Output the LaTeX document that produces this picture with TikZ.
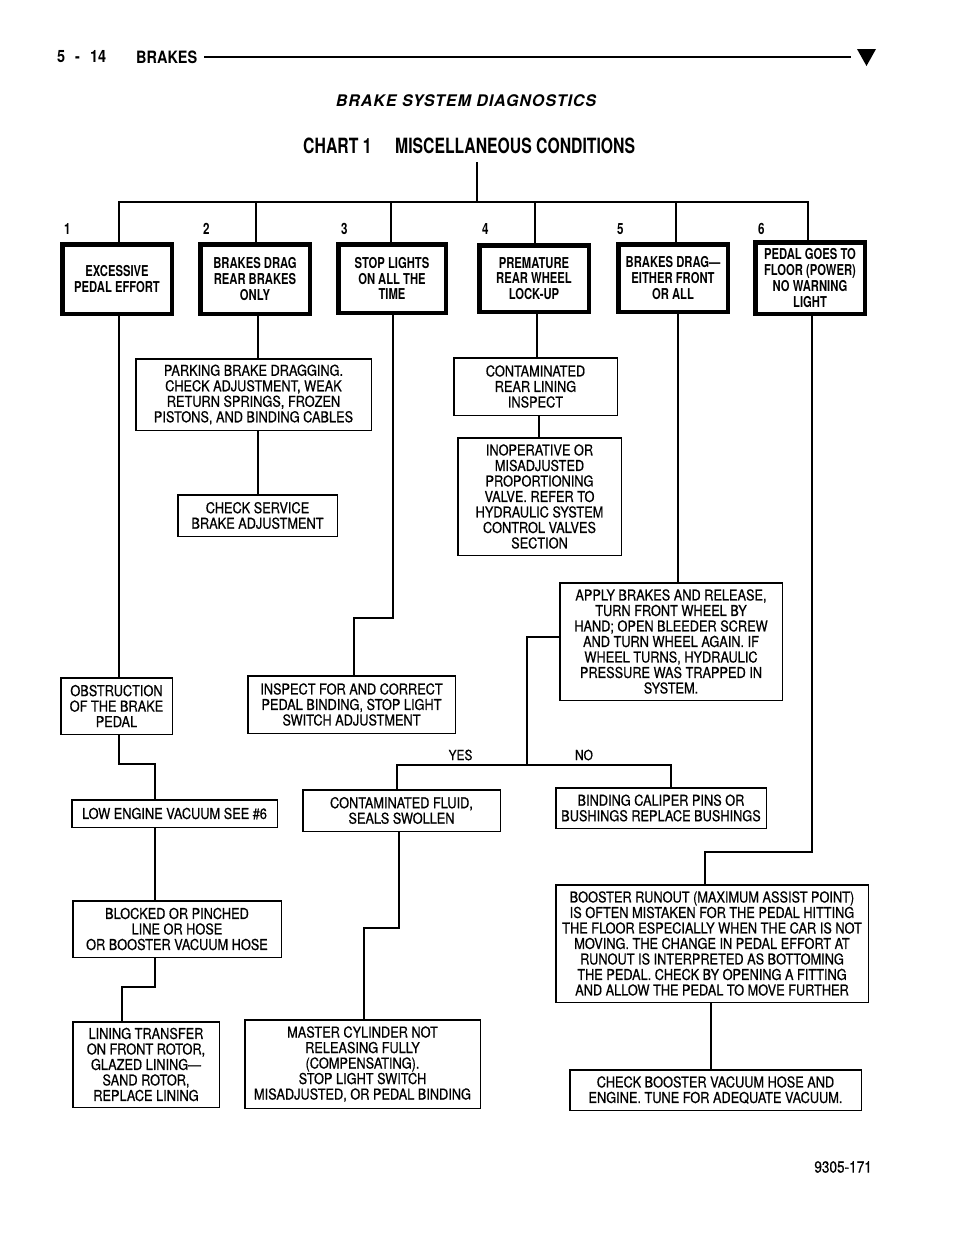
\documentclass[tikz,border=0pt]{standalone}
\usepackage{fontspec}
\setmainfont{TeX Gyre Heros}
\newfontfamily\condfont{TeX Gyre Heros}[FakeStretch=0.85,FakeBold=0.6]
\newfontfamily\bcond{TeX Gyre Heros}[FakeStretch=0.75]
\newfontfamily\hdfont{TeX Gyre Heros}[FakeStretch=0.85]
\newfontfamily\trackfont{TeX Gyre Heros}[LetterSpace=6]
\begin{document}
\begin{tikzpicture}[x=1pt,y=-1pt,
  thickbox/.style={draw, line width=4.5pt, inner sep=0pt, align=center,
    font=\bcond\bfseries\fontsize{15}{15.7}\selectfont},
  thinbox/.style={draw, line width=1.5pt, inner sep=0pt, align=center,
    font=\condfont\fontsize{15}{15.5}\selectfont},
  wire/.style={line width=1.4pt},
  numlbl/.style={anchor=west, inner sep=0pt, font=\bcond\bfseries\fontsize{15.5}{15.5}\selectfont},
  plainlbl/.style={inner sep=0pt, font=\condfont\fontsize{14}{14}\selectfont},
  hdtext/.style={anchor=west, inner sep=0pt, font=\hdfont\bfseries\fontsize{17}{17}\selectfont}]
\useasboundingbox (0,0) rectangle (960,1242);

% header
\node[hdtext] (pg) at (57,57) {5\hspace{10pt}-\hspace{10pt}14};
\node[hdtext] (brk) at (136,57) {BRAKES};
\coordinate (hlA) at (204,57);
\coordinate (hlB) at (851,57);
\draw[line width=2.4pt] (hlA) -- (hlB);
\coordinate (triA) at (857,49);
\coordinate (triB) at (876,49);
\coordinate (triC) at (866.5,66);
\fill (triA) -- (triB) -- (triC) -- cycle;

\node[inner sep=0pt, font=\trackfont\bfseries\itshape\fontsize{16}{16}\selectfont] (bsd) at (466,101) {BRAKE SYSTEM DIAGNOSTICS};
\node[anchor=west, inner sep=0pt, font=\bcond\bfseries\fontsize{21}{21}\selectfont] (chart) at (303,146) {CHART 1};
\node[anchor=west, inner sep=0pt, font=\bcond\bfseries\fontsize{21}{21}\selectfont] (misc) at (395,146) {MISCELLANEOUS CONDITIONS};

% numbers
\node[numlbl] (n1) at (64,229) {1};
\node[numlbl] (n2) at (203,229) {2};
\node[numlbl] (n3) at (341,229) {3};
\node[numlbl] (n4) at (482,229) {4};
\node[numlbl] (n5) at (617,229) {5};
\node[numlbl] (n6) at (758,229) {6};

% top boxes
\node[thickbox, minimum width=109.5, minimum height=69.5] (b1) at (117,279) {EXCESSIVE\\PEDAL EFFORT};
\node[thickbox, minimum width=109.5, minimum height=69.5] (b2) at (255,279) {BRAKES DRAG\\REAR BRAKES\\ONLY};
\node[thickbox, minimum width=107.5, minimum height=68.5] (b3) at (392,278.5) {STOP LIGHTS\\ON ALL THE\\TIME};
\node[thickbox, minimum width=109.5, minimum height=66.5] (b4) at (534,278.5) {PREMATURE\\REAR WHEEL\\LOCK-UP};
\node[thickbox, minimum width=109.5, minimum height=67.5] (b5) at (673,278) {BRAKES DRAG—\\EITHER FRONT\\OR ALL};
\node[thickbox, minimum width=109.5, minimum height=71.5] (b6) at (810,278) {PEDAL GOES TO\\FLOOR (POWER)\\NO WARNING\\LIGHT};

% thin boxes
\node[thinbox, minimum width=235.5, minimum height=71.5] (park) at (253.5,394.5) {PARKING BRAKE DRAGGING.\\CHECK ADJUSTMENT, WEAK\\RETURN SPRINGS, FROZEN\\PISTONS, AND BINDING CABLES};
\node[thinbox, minimum width=159.5, minimum height=41.5] (cserv) at (257.5,515.5) {CHECK SERVICE\\BRAKE ADJUSTMENT};
\node[thinbox, minimum width=163.5, minimum height=57.5] (cont) at (535.5,386.5) {CONTAMINATED\\REAR LINING\\INSPECT};
\node[thinbox, minimum width=163.5, minimum height=117.5] (inop) at (539.5,496.5) {INOPERATIVE OR\\MISADJUSTED\\PROPORTIONING\\VALVE. REFER TO\\HYDRAULIC SYSTEM\\CONTROL VALVES\\SECTION};
\node[thinbox, minimum width=222.5, minimum height=117.5] (apply) at (671,641.5) {APPLY BRAKES AND RELEASE,\\TURN FRONT WHEEL BY\\HAND; OPEN BLEEDER SCREW\\AND TURN WHEEL AGAIN. IF\\WHEEL TURNS, HYDRAULIC\\PRESSURE WAS TRAPPED IN\\SYSTEM.};
\node[thinbox, minimum width=111.5, minimum height=56.5] (obst) at (116.5,706) {OBSTRUCTION\\OF THE BRAKE\\PEDAL};
\node[thinbox, minimum width=207.5, minimum height=57.5] (insp) at (351.5,704.5) {INSPECT FOR AND CORRECT\\PEDAL BINDING, STOP LIGHT\\SWITCH ADJUSTMENT};
\node[thinbox, minimum width=205.5, minimum height=27.5] (low) at (174.5,813.5) {LOW ENGINE VACUUM SEE \#6};
\node[thinbox, minimum width=208.5, minimum height=56.5] (block) at (177,929) {BLOCKED OR PINCHED\\LINE OR HOSE\\OR BOOSTER VACUUM HOSE};
\node[thinbox, minimum width=146.5, minimum height=85.5] (lining) at (146,1064.5) {LINING TRANSFER\\ON FRONT ROTOR,\\GLAZED LINING—\\SAND ROTOR,\\REPLACE LINING};
\node[thinbox, minimum width=197.5, minimum height=41.5] (cfluid) at (401.5,810.5) {CONTAMINATED FLUID,\\SEALS SWOLLEN};
\node[thinbox, minimum width=235.5, minimum height=88.5] (master) at (362.5,1064) {MASTER CYLINDER NOT\\RELEASING FULLY\\(COMPENSATING).\\STOP LIGHT SWITCH\\MISADJUSTED, OR PEDAL BINDING};
\node[thinbox, minimum width=210.5, minimum height=40.5] (bind) at (661,808) {BINDING CALIPER PINS OR\\BUSHINGS REPLACE BUSHINGS};
\node[thinbox, minimum width=312.5, minimum height=117.5] (boost) at (712,943.5) {BOOSTER RUNOUT (MAXIMUM ASSIST POINT)\\IS OFTEN MISTAKEN FOR THE PEDAL HITTING\\THE FLOOR ESPECIALLY WHEN THE CAR IS NOT\\MOVING. THE CHANGE IN PEDAL EFFORT AT\\RUNOUT IS INTERPRETED AS BOTTOMING\\THE PEDAL. CHECK BY OPENING A FITTING\\AND ALLOW THE PEDAL TO MOVE FURTHER};
\node[thinbox, minimum width=291.5, minimum height=40.5] (chkb) at (715.5,1090) {CHECK BOOSTER VACUUM HOSE AND\\ENGINE. TUNE FOR ADEQUATE VACUUM.};

% labels
\node[plainlbl] (yes) at (460.5,755) {YES};
\node[plainlbl] (no) at (584,755) {NO};
\node[inner sep=0pt, anchor=east, font=\condfont\fontsize{16}{16}\selectfont] (fig) at (872,1167) {9305-171};

% connectors: title and bus
\coordinate (ttop) at (477,162);
\coordinate (tbus) at (477,202);
\coordinate (d1) at (119,202);
\coordinate (d2) at (256,202);
\coordinate (d3) at (391,202);
\coordinate (d4) at (535,202);
\coordinate (d5) at (676,202);
\coordinate (d6) at (808,202);
\draw[wire] (ttop) -- (tbus);
\draw[wire] (b1.north -| d1) -- (d1) -- (d6) -- (b6.north -| d6);
\draw[wire] (d2) -- (b2.north -| d2);
\draw[wire] (d3) -- (b3.north -| d3);
\draw[wire] (d4) -- (b4.north -| d4);
\draw[wire] (d5) -- (b5.north -| d5);

% column 1
\coordinate (k1a) at (119,764);
\coordinate (k1b) at (155,764);
\draw[wire] (b1.south -| k1a) -- (obst.north -| k1a);
\draw[wire] (obst.south -| k1a) -- (k1a) -- (k1b) -- (low.north -| k1b);
\draw[wire] (low.south -| k1b) -- (block.north -| k1b);
\coordinate (k9a) at (155,987);
\coordinate (k9b) at (122,987);
\draw[wire] (block.south -| k9a) -- (k9a) -- (k9b) -- (lining.north -| k9b);

% column 2
\coordinate (c2) at (258,400);
\draw[wire] (b2.south -| c2) -- (park.north -| c2);
\draw[wire] (park.south -| c2) -- (cserv.north -| c2);

% column 3
\coordinate (k3a) at (393,618);
\coordinate (k3b) at (354,618);
\draw[wire] (b3.south -| k3a) -- (k3a) -- (k3b) -- (insp.north -| k3b);

% column 4
\coordinate (c4) at (537,330);
\coordinate (c4b) at (539,420);
\draw[wire] (b4.south -| c4) -- (cont.north -| c4);
\draw[wire] (cont.south -| c4b) -- (inop.north -| c4b);

% column 5
\coordinate (c5) at (678,450);
\draw[wire] (b5.south -| c5) -- (apply.north -| c5);
\coordinate (aw) at (527,637);
\coordinate (yn) at (527,765);
\coordinate (ynL) at (397,765);
\coordinate (ynR) at (671,765);
\draw[wire] (apply.west |- aw) -- (aw) -- (yn);
\draw[wire] (cfluid.north -| ynL) -- (ynL) -- (ynR) -- (bind.north -| ynR);
\coordinate (k7a) at (399,928);
\coordinate (k7b) at (364,928);
\draw[wire] (cfluid.south -| k7a) -- (k7a) -- (k7b) -- (master.north -| k7b);

% column 6
\coordinate (k6a) at (812,852);
\coordinate (k6b) at (705,852);
\draw[wire] (b6.south -| k6a) -- (k6a) -- (k6b) -- (boost.north -| k6b);
\coordinate (c8) at (711,1030);
\draw[wire] (boost.south -| c8) -- (chkb.north -| c8);
\end{tikzpicture}
\end{document}
